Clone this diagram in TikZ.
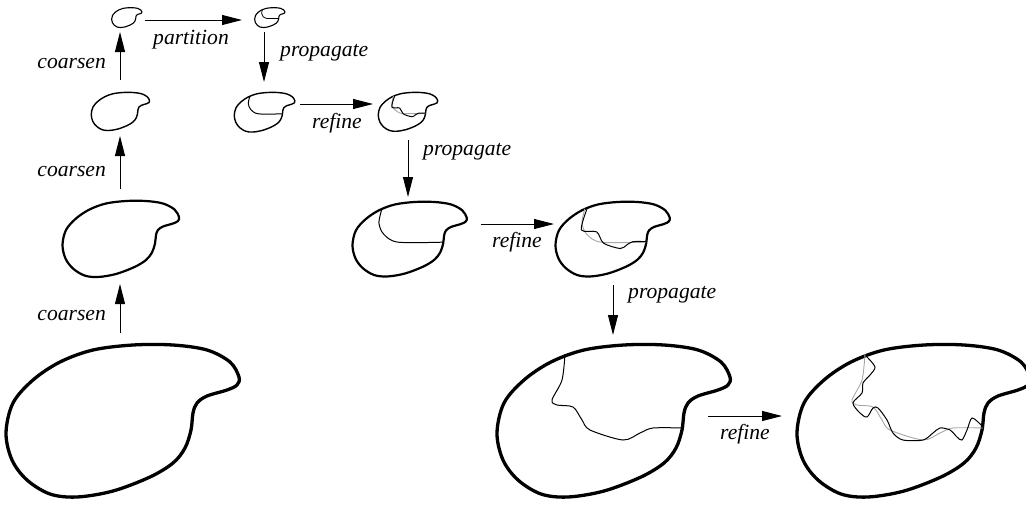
\documentclass[tikz,border=0pt]{standalone}
\usepackage{fontspec}
\setmainfont{Liberation Serif}
\newfontfamily\lblfont{Liberation Serif}
\usetikzlibrary{arrows.meta}
\begin{document}
\begin{tikzpicture}[x=1pt,y=-1pt,
  blob/.pic={\draw[pic actions] plot[smooth cycle, tension=0.55] coordinates {(1,90) (8,60) (28,37) (55,19) (88,7) (128,2) (168,2) (202,7) (225,19) (234,34) (232,42) (222,47) (202,53) (192,60) (188,70) (186,87) (180,105) (168,120) (145,134) (108,148) (72,154) (45,151) (22,137) (7,117)};},
  cutA/.pic={\draw[pic actions] plot[smooth, tension=0.5] coordinates {(61,16) (55,45) (65,68) (94,84) (186,84)};},
  cutB/.pic={\draw[pic actions] plot[smooth, tension=0.5] coordinates {(65,17) (54,59) (85,63) (99,86) (133,97) (146,90) (159,83) (186,83)};},
  cutC/.pic={\draw[pic actions] plot[smooth, tension=0.5] coordinates {(69,11) (66,37) (56,57) (61,62) (77,64) (86,77) (94,87) (127,97) (144,90) (157,85) (187,85)};},
  cutD/.pic={\draw[pic actions] plot[smooth, tension=0.5] coordinates {(71,14) (79,24) (74,32) (67,40) (66,50) (57,60) (64,70) (71,74) (77,65) (82,65) (91,77) (97,90) (107,97) (127,97) (137,90) (144,85) (154,87) (161,94) (166,97) (171,87) (176,75) (185,82)};},
  flow/.style={line width=1pt, -{Triangle[length=20pt,width=10pt]}},
  lbl/.style={font=\lblfont\itshape\fontsize{21.6}{26}\selectfont, inner sep=0pt},
  faint/.style={draw=black!35, line width=0.9pt}
]
\useasboundingbox (0,0) rectangle (1026,506);

% blobs
\pic[line width=1.1pt, scale=0.13] (t1) at (111.5,7.5) {blob};
\pic[line width=1.1pt, scale=0.13] (t2) at (254.5,7.5) {blob};
\pic[line width=0.8pt, scale=0.13] (t2c) at (254.5,7.5) {cutA};

\pic[line width=1.4pt, scale=0.25] (s1) at (91,92) {blob};
\pic[line width=1.4pt, scale=0.26] (s2) at (234,92) {blob};
\pic[line width=1pt, scale=0.26] (s2c) at (234,92) {cutA};
\pic[line width=1.4pt, scale=0.255] (s3) at (378,92) {blob};
\pic[faint, scale=0.255] (s3g) at (378,92) {cutA};
\pic[line width=1pt, scale=0.255] (s3c) at (378,92) {cutB};

\pic[line width=2.2pt, scale=0.5] (m1) at (62,200) {blob};
\pic[line width=2.2pt, scale=0.49] (m2) at (352,201) {blob};
\pic[line width=1pt, scale=0.49] (m2c) at (352,201) {cutA};
\pic[line width=2.2pt, scale=0.49] (m3) at (555,201) {blob};
\pic[faint, scale=0.49] (m3g) at (555,201) {cutA};
\pic[line width=1pt, scale=0.49] (m3c) at (555,201) {cutB};

\pic[line width=3.3pt] (b1) at (5,343) {blob};
\pic[line width=3.3pt] (b2) at (496,343) {blob};
\pic[line width=1pt] (b2c) at (496,343) {cutC};
\pic[line width=3.3pt] (b3) at (796,343) {blob};
\pic[faint] (b3g) at (796,343) {cutC};
\pic[line width=1pt] (b3c) at (796,343) {cutD};

% arrow end points
\coordinate (c1a) at (120,333); \coordinate (c1b) at (120,284);
\coordinate (c2a) at (120,189); \coordinate (c2b) at (120,136);
\coordinate (c3a) at (120,80);  \coordinate (c3b) at (120,32);
\coordinate (pa) at (145,20);   \coordinate (pb) at (242,20);
\coordinate (p1a) at (264,32);  \coordinate (p1b) at (264,82);
\coordinate (r1a) at (300,104); \coordinate (r1b) at (373,104);
\coordinate (p2a) at (408,140); \coordinate (p2b) at (408,197);
\coordinate (r2a) at (481,224); \coordinate (r2b) at (554,224);
\coordinate (p3a) at (613,285); \coordinate (p3b) at (613,335);
\coordinate (r3a) at (708,416); \coordinate (r3b) at (782,416);

\draw[flow] (c1a) -- (c1b);
\draw[flow] (c2a) -- (c2b);
\draw[flow] (c3a) -- (c3b);
\draw[flow] (pa) -- (pb);
\draw[flow] (p1a) -- (p1b);
\draw[flow] (r1a) -- (r1b);
\draw[flow] (p2a) -- (p2b);
\draw[flow] (r2a) -- (r2b);
\draw[flow] (p3a) -- (p3b);
\draw[flow] (r3a) -- (r3b);

% labels
\node[lbl, anchor=base east] (lc1) at (106,320) {coarsen};
\node[lbl, anchor=base east] (lc2) at (106,176) {coarsen};
\node[lbl, anchor=base east] (lc3) at (106,68) {coarsen};
\node[lbl, anchor=base west] (lpt) at (153,44) {partition};
\node[lbl, anchor=base west] (lp1) at (280,56) {propagate};
\node[lbl, anchor=base west] (lr1) at (312,128) {refine};
\node[lbl, anchor=base west] (lp2) at (423,155) {propagate};
\node[lbl, anchor=base west] (lr2) at (492,247) {refine};
\node[lbl, anchor=base west] (lp3) at (628,298) {propagate};
\node[lbl, anchor=base west] (lr3) at (720,439) {refine};
\end{tikzpicture}
\end{document}
